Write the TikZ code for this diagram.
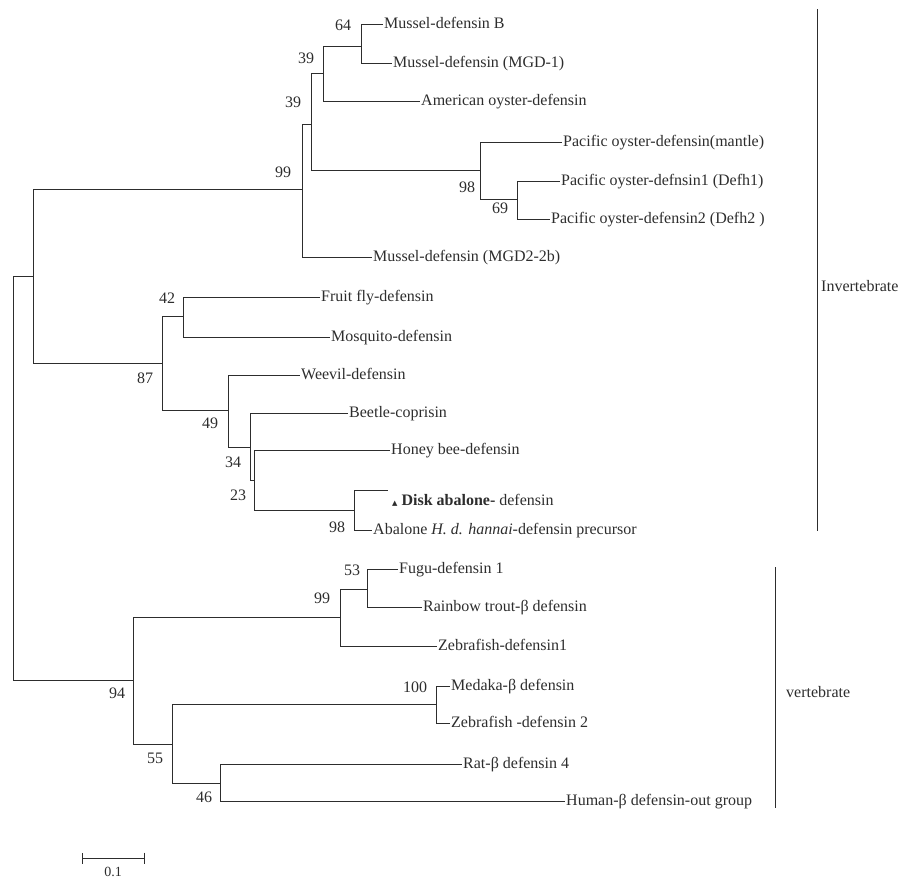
\documentclass[tikz,border=0pt]{standalone}
\usepackage{fontspec}
\setmainfont{Liberation Serif}
\newfontfamily\dejavu{DejaVu Sans}
\usepackage{tikz}
\usetikzlibrary{arrows.meta}
\definecolor{treeGray}{RGB}{45,45,45}

\tikzset{
  treeline/.style={draw=treeGray, line width=0.8pt},
  leaf/.style={anchor=west, inner sep=1pt, text height=11pt, text depth=3pt,
    text=treeGray, font=\fontsize{16}{18}\selectfont},
  boot/.style={inner sep=0pt, text=treeGray, font=\fontsize{16}{18}\selectfont},
}

\begin{document}
\begin{tikzpicture}[x=1pt, y=-1pt]
        \useasboundingbox (0,0) rectangle (909,879);
        % inner nodes of the tree
        \coordinate (root) at (13,478);
        \coordinate (inv) at (33,276);
        \coordinate (n99a) at (302,189);
        \coordinate (n39b) at (311,124);
        \coordinate (n39a) at (323,73);
        \coordinate (n64) at (361,46);
        \coordinate (n98a) at (480,170);
        \coordinate (n69) at (517,199);
        \coordinate (n87) at (162,363);
        \coordinate (n42) at (183,316);
        \coordinate (n49) at (228,410);
        \coordinate (n34) at (250,447);
        \coordinate (n23) at (254,480);
        \coordinate (n98b) at (354,510);
        \coordinate (vert) at (133,680);
        \coordinate (n99b) at (340,617);
        \coordinate (n53) at (367,589);
        \coordinate (n55) at (172,744);
        \coordinate (n100) at (436,704);
        \coordinate (n46) at (220,783);
        \coordinate (diskEnd) at (388,490);

        % leaves
        \node[leaf] (musB) at (383,24) {Mussel-defensin B};
        \node[leaf] (musMGD1) at (392,63) {Mussel-defensin (MGD-1)};
        \node[leaf] (amOy) at (420,101) {American oyster-defensin};
        \node[leaf] (pacM) at (562,142) {Pacific oyster-defensin(mantle)};
        \node[leaf] (pacD1) at (560,181) {Pacific oyster-defnsin1 (Defh1)};
        \node[leaf] (pacD2) at (550,219) {Pacific oyster-defensin2 (Defh2 )};
        \node[leaf] (musMGD2) at (372,257) {Mussel-defensin (MGD2-2b)};
        \node[leaf] (fly) at (320,297) {Fruit fly-defensin};
        \node[leaf] (mosq) at (330,337) {Mosquito-defensin};
        \node[leaf] (weevil) at (300,375) {Weevil-defensin};
        \node[leaf] (beetle) at (348,413) {Beetle-coprisin};
        \node[leaf] (bee) at (390,450) {Honey bee-defensin};
        \node[leaf] (disk) at (391,501) {{\dejavu\fontsize{7}{8}\selectfont ▲} \textbf{Disk abalone-} defensin};
        \node[leaf] (abal) at (372,530) {Abalone \textit{H. d. hannai}-defensin precursor};
        \node[leaf] (fugu) at (398,569) {Fugu-defensin 1};
        \node[leaf] (trout) at (422,607) {Rainbow trout-β defensin};
        \node[leaf] (zeb1) at (437,646) {Zebrafish-defensin1};
        \node[leaf] (medaka) at (450,686) {Medaka-β defensin};
        \node[leaf] (zeb2) at (450,723) {Zebrafish -defensin 2};
        \node[leaf] (rat) at (462,764) {Rat-β defensin 4};
        \node[leaf] (human) at (565,801) {Human-β defensin-out group};

        % invertebrate clade
        \draw[treeline] (root) |- (inv) (root) |- (vert);
        \draw[treeline] (inv) |- (n99a) (inv) |- (n87);
        \draw[treeline] (n99a) |- (n39b) (n99a) |- (musMGD2.west);
        \draw[treeline] (n39b) |- (n39a) (n39b) |- (n98a);
        \draw[treeline] (n39a) |- (n64) (n39a) |- (amOy.west);
        \draw[treeline] (n64) |- (musB.west) (n64) |- (musMGD1.west);
        \draw[treeline] (n98a) |- (pacM.west) (n98a) |- (n69);
        \draw[treeline] (n69) |- (pacD1.west) (n69) |- (pacD2.west);
        \draw[treeline] (n87) |- (n42) (n87) |- (n49);
        \draw[treeline] (n42) |- (fly.west) (n42) |- (mosq.west);
        \draw[treeline] (n49) |- (weevil.west) (n49) |- (n34);
        \draw[treeline] (n34) |- (beetle.west) (n34) |- (n23);
        \draw[treeline] (n23) |- (bee.west) (n23) |- (n98b);
        \draw[treeline] (n98b) |- (diskEnd) (n98b) |- (abal.west);
        % vertebrate clade
        \draw[treeline] (vert) |- (n99b) (vert) |- (n55);
        \draw[treeline] (n99b) |- (n53) (n99b) |- (zeb1.west);
        \draw[treeline] (n53) |- (fugu.west) (n53) |- (trout.west);
        \draw[treeline] (n55) |- (n100) (n55) |- (n46);
        \draw[treeline] (n100) |- (medaka.west) (n100) |- (zeb2.west);
        \draw[treeline] (n46) |- (rat.west) (n46) |- (human.west);

        % bootstrap values
        \node[boot] (b64) at (343,25) {64};
        \node[boot] (b39a) at (306,58) {39};
        \node[boot] (b39b) at (293,102) {39};
        \node[boot] (b99a) at (283,172) {99};
        \node[boot] (b98a) at (467,187) {98};
        \node[boot] (b69) at (500,208) {69};
        \node[boot] (b42) at (167,298) {42};
        \node[boot] (b87) at (145,378) {87};
        \node[boot] (b49) at (210,423) {49};
        \node[boot] (b34) at (233,462) {34};
        \node[boot] (b23) at (238,495) {23};
        \node[boot] (b98b) at (337,527) {98};
        \node[boot] (b53) at (352,570) {53};
        \node[boot] (b99b) at (322,598) {99};
        \node[boot] (b94) at (117,693) {94};
        \node[boot] (b100) at (415,687) {100};
        \node[boot] (b55) at (155,758) {55};
        \node[boot] (b46) at (204,797) {46};

        % groups
        \coordinate (invTop) at (817,9);
        \coordinate (invBot) at (817,531);
        \coordinate (vertTop) at (775,567);
        \coordinate (vertBot) at (775,808);
        \draw[treeline] (invTop) -- (invBot);
        \draw[treeline] (vertTop) -- (vertBot);
        \node[leaf] (invLab) at (820,287) {Invertebrate};
        \node[leaf] (vertLab) at (785,693) {vertebrate};

        % scale bar
        \coordinate (sbL) at (82,858);
        \coordinate (sbR) at (145,858);
        \draw[treeline, {Bar[width=11pt]}-{Bar[width=11pt]}] (sbL) -- (sbR);
        \node[boot, font=\fontsize{14}{16}\selectfont] (sbLab) at (113,872) {0.1};
    \end{tikzpicture}
\end{document}
